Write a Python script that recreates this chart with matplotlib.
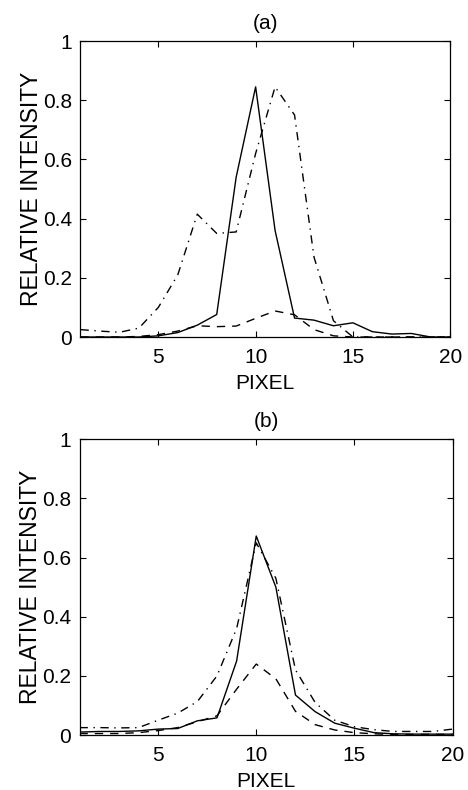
import matplotlib
matplotlib.use("Agg")
import matplotlib.pyplot as plt

plt.rcParams['font.family'] = ['Liberation Sans', 'DejaVu Sans']

pixel = list(range(1, 21))

# Panel (a)
a_solid = [0.0, 0.0, 0.0, 0.0, 0.004, 0.015, 0.04, 0.076, 0.54, 0.845,
           0.36, 0.064, 0.057, 0.038, 0.048, 0.018, 0.01, 0.012, 0.0, 0.0]
a_dashed = [0.0, 0.0, 0.0, 0.002, 0.008, 0.02, 0.038, 0.035, 0.037, 0.063,
            0.088, 0.075, 0.025, 0.004, 0.0, 0.0, 0.0, 0.0, 0.0, 0.0]
a_dashdot = [0.025, 0.02, 0.016, 0.03, 0.10, 0.21, 0.415, 0.35, 0.355, 0.62,
             0.845, 0.75, 0.27, 0.055, 0.0, 0.0, 0.0, 0.0, 0.0, 0.0]

# Panel (b)
b_solid = [0.01, 0.012, 0.012, 0.014, 0.02, 0.022, 0.048, 0.058, 0.25, 0.673,
           0.50, 0.135, 0.079, 0.04, 0.023, 0.008, 0.004, 0.003, 0.003, 0.003]
b_dashed = [0.005, 0.005, 0.005, 0.008, 0.015, 0.025, 0.045, 0.065, 0.155, 0.24,
            0.19, 0.08, 0.035, 0.017, 0.008, 0.004, 0.002, 0.002, 0.002, 0.002]
b_dashdot = [0.025, 0.025, 0.024, 0.025, 0.05, 0.074, 0.113, 0.2, 0.36, 0.65,
             0.53, 0.22, 0.11, 0.05, 0.028, 0.018, 0.012, 0.012, 0.012, 0.02]

xticks = [5, 10, 15, 20]
yticks = [0, 0.2, 0.4, 0.6, 0.8, 1]
yticklabels = ['0', '0.2', '0.4', '0.6', '0.8', '1']

fig = plt.figure(figsize=(4.68, 7.9), dpi=100)
ax_a = fig.add_axes([0.172, 0.5734, 0.790, 0.3747])
ax_b = fig.add_axes([0.170, 0.0696, 0.797, 0.3743])

FS = 15
for ax, s, d, dd, title in [(ax_a, a_solid, a_dashed, a_dashdot, '(a)'),
                            (ax_b, b_solid, b_dashed, b_dashdot, '(b)')]:
    ax.plot(pixel, s, color='black', lw=1.0, linestyle='-')
    ax.plot(pixel, d, color='black', lw=1.0, linestyle=(0, (6, 5)))
    ax.plot(pixel, dd, color='black', lw=1.0, linestyle=(0, (6, 4, 1, 4)))
    ax.set_xlim(1, 20)
    ax.set_ylim(0, 1)
    ax.set_xticks(xticks)
    ax.set_yticks(yticks)
    ax.set_yticklabels(yticklabels)
    ax.tick_params(direction='in', top=True, right=True, length=4, width=0.8,
                   labelsize=FS)
    ax.tick_params(axis='x', pad=8)
    ax.tick_params(axis='y', pad=6)
    for sp in ax.spines.values():
        sp.set_linewidth(0.9)
    ax.set_xlabel('PIXEL', fontsize=FS, labelpad=5)
    ax.set_ylabel('RELATIVE INTENSITY', fontsize=16.5, labelpad=0)
    ax.set_title(title, fontsize=FS, pad=9)

fig.savefig('out.png', dpi=100)
